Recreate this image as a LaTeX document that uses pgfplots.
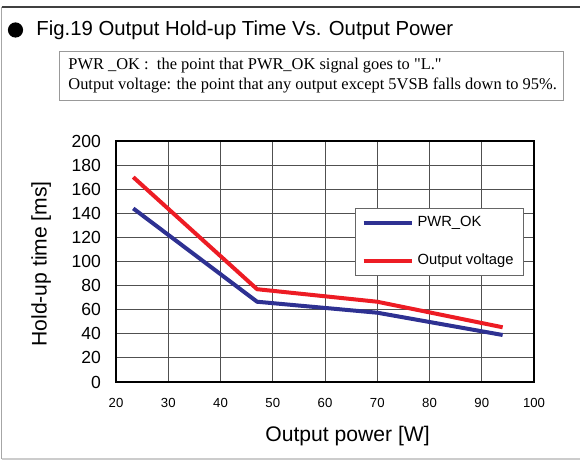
\documentclass[border=0pt]{standalone}
\usepackage{fontspec}
\setmainfont{Liberation Sans}
\newfontfamily\serif{Liberation Serif}
\usepackage{pgfplots}
\pgfplotsset{compat=1.18}
\definecolor{pwrok}{HTML}{2E3192}
\definecolor{outv}{HTML}{ED1C24}
\definecolor{gridc}{HTML}{505050}

\begin{document}
\begin{tikzpicture}[x=0.5bp,y=0.5bp]
% page frame (pixel coordinates, y counted from the bottom)
\path[use as bounding box] (0,0) rectangle (580,461);
\draw[gray!70,line width=0.6bp] (1.5,461-7) -- (1.5,461-459);
\draw[black!75,line width=0.7bp] (1.5,461-7) -- (580,461-7);
\draw[black!20,line width=0.7bp] (1.5,461-459) -- (580,461-459);
% title
\fill[black] (15.5,461-30) circle[radius=3.8bp];
\node[anchor=base west,inner sep=0pt,font=\fontsize{10.2}{12}\selectfont] at (36,461-36)
  {Fig.19 Output Hold-up Time Vs. Output Power};
% note box
\draw[black!40,line width=0.5bp] (59,461-52) rectangle (563,461-101);
\node[anchor=base west,inner sep=0pt,font=\serif\fontsize{8.25}{9}\selectfont] at (68,461-70)
  {PWR \_OK :\ \ the point that PWR\_OK signal goes to "L."};
\node[anchor=base west,inner sep=0pt,font=\serif\fontsize{8.25}{9}\selectfont] at (68,461-90)
  {Output voltage: the point that any output except 5VSB falls down to 95\%.};

\begin{axis}[
  at={(58bp,39.5bp)}, anchor=south west,
  scale only axis, width=209bp, height=120.5bp,
  xmin=20, xmax=100, ymin=0, ymax=200,
  xtick={20,30,...,100}, ytick={0,20,...,200},
  grid=major, grid style={gridc,line width=0.5bp},
  axis line style={black,line width=0.9bp},
  major tick length=0pt,
  /pgf/number format/assume math mode=true,
  xticklabel style={font=\fontsize{6.6}{8}\selectfont,yshift=-4.5bp},
  yticklabel style={font=\fontsize{8.8}{10}\selectfont,xshift=-4bp},
  xlabel={Output power [W]}, ylabel={Hold-up time [ms]},
  label style={font=\fontsize{10.6}{12}\selectfont},
  xlabel style={at={(axis description cs:0.554,-0.224)},anchor=center},
  ylabel style={at={(axis description cs:-0.179,0.49)},anchor=center},
  legend cell align=left,
  legend style={at={(axis description cs:0.572,0.722)},anchor=north west,
    font=\fontsize{7.4}{8}\selectfont,draw=black!60,line width=0.5bp,
    row sep=8bp,inner xsep=3bp,inner ysep=2bp},
  legend image code/.code={\draw[#1,line width=2bp] (0bp,0bp) -- (24bp,0bp);},
]
\addplot[pwrok,line width=2bp] coordinates {
(23.3,144)(47,66.6)(70,57.5)(94,39)
};
\addlegendentry{PWR\_OK}
\addplot[outv,line width=2bp] coordinates {
(23.3,170)(47,77)(70,66.6)(94,45.4)
};
\addlegendentry{Output voltage}
\end{axis}
\end{tikzpicture}
\end{document}
